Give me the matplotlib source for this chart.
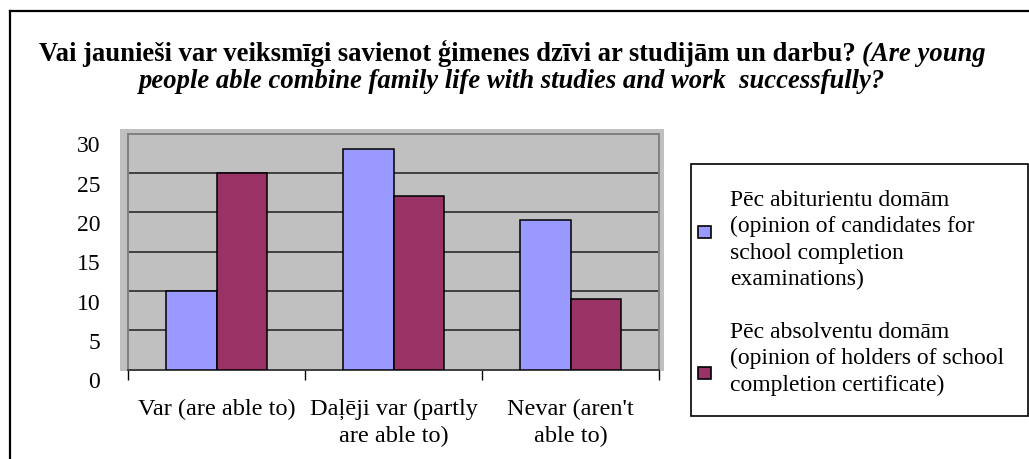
import matplotlib
matplotlib.use("Agg")
import matplotlib.pyplot as plt
import matplotlib.transforms as mtransforms
from matplotlib.patches import Rectangle
from matplotlib.lines import Line2D
import numpy as np

categories = ["Var (are able to)", "Daļēji var (partly\nare able to)", "Nevar (aren't\nable to)"]
candidates = [10, 28, 19]
holders = [25, 22, 9]
yticks = [0, 5, 10, 15, 20, 25, 30]
legend_labels = [
    ["Pēc abiturientu domām", "(opinion of candidates for", "school completion", "examinations)"],
    ["Pēc absolventu domām", "(opinion of holders of school", "completion certificate)"],
]
title_a = "Vai jaunieši var veiksmīgi savienot ģimenes dzīvi ar studijām un darbu?"
title_b = "(Are young"
title_c = "people able combine family life with studies and work  successfully?"

BLUE = "#9999FF"
RED = "#993366"
GREY = "#C0C0C0"
FONT = "Liberation Serif"

W, H = 1029, 459
fig = plt.figure(figsize=(W / 100, H / 100), dpi=100)


def fx(x):
    return x / W


def fy(y):
    return 1 - y / H


left, right, top, bottom = 128, 659, 133.5, 369.5
ax = fig.add_axes([fx(left), fy(bottom), fx(right) - fx(left), (bottom - top) / H])
ax.set_zorder(2)

# outer grey margin behind the plot area
fig.patches.append(Rectangle((fx(120), fy(370.5)), fx(664) - fx(120), (370.5 - 129) / H,
                             transform=fig.transFigure, facecolor=GREY, edgecolor="none", zorder=1))
ax.set_facecolor(GREY)

x = np.arange(len(categories))
bw = 0.288
ax.bar(x - bw / 2, candidates, bw, color=BLUE, edgecolor="black", linewidth=1.1, zorder=3)
ax.bar(x + bw / 2, holders, bw, color=RED, edgecolor="black", linewidth=1.1, zorder=3)

ax.set_xlim(-0.5, len(categories) - 0.5)
ax.set_ylim(0, 30)
ax.set_yticks(yticks)
ax.yaxis.grid(True, color="#404040", linewidth=1.4, zorder=1)
ax.set_axisbelow(True)
for s in ["left", "top", "right"]:
    ax.spines[s].set_color("#808080")
    ax.spines[s].set_linewidth(1.4)
ax.spines["bottom"].set_color("#404040")
ax.spines["bottom"].set_linewidth(1.4)

ax.tick_params(axis="y", length=0, pad=20, labelsize=17)
ax.set_yticklabels([str(v) for v in yticks], fontfamily=FONT)
# excel draws the value labels a bit below their gridlines
shift = mtransforms.ScaledTranslation(0, -0.11, fig.dpi_scale_trans)
for lab in ax.get_yticklabels():
    lab.set_transform(lab.get_transform() + shift)

ax.set_xticks(x)
ax.set_xticklabels(categories, fontfamily=FONT, fontsize=17.5, linespacing=1.38)
ax.tick_params(axis="x", length=0, pad=21)
ax.set_xticks(np.arange(len(categories) + 1) - 0.5, minor=True)
ax.tick_params(axis="x", which="minor", length=7, width=1, color="black", direction="out")

# legend box
fig.patches.append(Rectangle((fx(691), fy(416)), fx(1028) - fx(691), (416 - 164) / H,
                             transform=fig.transFigure, facecolor="white", edgecolor="black",
                             linewidth=1.2, zorder=1))
for (colr, my), (lines, ty) in zip([(BLUE, 232), (RED, 373)],
                                   [(legend_labels[0], 200), (legend_labels[1], 332)]):
    fig.patches.append(Rectangle((fx(698), fy(my + 6)), 13 / W, 12 / H, transform=fig.transFigure,
                                 facecolor=colr, edgecolor="black", linewidth=1.2, zorder=2))
    for i, t in enumerate(lines):
        fig.text(fx(730), fy(ty + 26.5 * i), t, fontfamily=FONT, fontsize=17, va="center", ha="left")

# figure frame
fig.add_artist(Line2D([fx(10), 1], [fy(11), fy(11)], color="black", linewidth=1.6, transform=fig.transFigure))
fig.add_artist(Line2D([fx(10), fx(10)], [fy(11), 0], color="black", linewidth=1.6, transform=fig.transFigure))

# title, mixed bold / bold italic on the first line
fig.canvas.draw()
r = fig.canvas.get_renderer()
cx = 512
fs = 19.2
ta = fig.text(0, fy(61), title_a, fontfamily=FONT, fontsize=fs, weight="bold", va="baseline")
tb = fig.text(0, fy(61), title_b, fontfamily=FONT, fontsize=fs, weight="bold", style="italic", va="baseline")
wa = ta.get_window_extent(r).width
wb = tb.get_window_extent(r).width
gap = 6
x0 = cx - (wa + gap + wb) / 2
ta.set_x(fx(x0))
tb.set_x(fx(x0 + wa + gap))
fig.text(fx(cx), fy(88), title_c, fontfamily=FONT, fontsize=fs, weight="bold", style="italic",
         va="baseline", ha="center")

fig.savefig("out.png", dpi=100)
